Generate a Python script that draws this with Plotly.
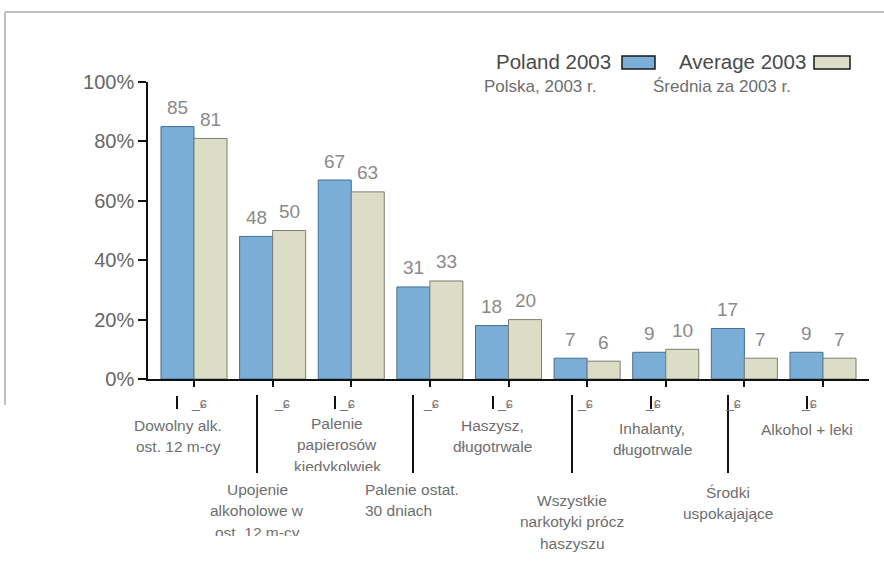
import plotly.graph_objects as go

W, H = 884, 579

# --- data -------------------------------------------------------------
categories = [
    "Dowolny alk.\nost. 12 m-cy",
    "Upojenie\nalkoholowe w\nost. 12 m-cy",
    "Palenie\npapierosów\nkiedykolwiek",
    "Palenie ostat.\n30 dniach",
    "Haszysz,\ndługotrwale",
    "Wszystkie\nnarkotyki prócz\nhaszyszu",
    "Inhalanty,\ndługotrwale",
    "Środki\nuspokajające",
    "Alkohol + leki",
]
poland_2003 = [85, 48, 67, 31, 18, 7, 9, 17, 9]
average_2003 = [81, 50, 63, 33, 20, 6, 10, 7, 7]
y_ticks = [0, 20, 40, 60, 80, 100]
y_tick_labels = ["0%", "20%", "40%", "60%", "80%", "100%"]
series_en = ["Poland 2003", "Average 2003"]
series_pl = ["Polska, 2003 r.", "Średnia za 2003 r."]

# --- styling ----------------------------------------------------------
BLUE, BLUE_EDGE = "#7aaed6", "#456f93"
BEIGE, BEIGE_EDGE = "#dcddc7", "#7d7d70"
MAIN_FONT = "Liberation Sans, Arial, sans-serif"
LABEL_FONT = "Liberation Sans, Arial, sans-serif"


def px(x):
    return x / W


def py(y):
    return 1 - y / H


idx = list(range(len(categories)))

fig = go.Figure()
fig.add_trace(go.Bar(x=idx, y=poland_2003, name=series_en[0],
                     marker=dict(color=BLUE, line=dict(color=BLUE_EDGE, width=1))))
fig.add_trace(go.Bar(x=idx, y=average_2003, name=series_en[1],
                     marker=dict(color=BEIGE, line=dict(color=BEIGE_EDGE, width=1))))

annotations = []
shapes = []

# value labels above each bar
half = 0.21
for i in idx:
    for off, v in ((-half, poland_2003[i]), (half, average_2003[i])):
        annotations.append(dict(x=i + off, y=v, xref="x", yref="y", text=str(v),
                                showarrow=False, yshift=19, yanchor="middle",
                                font=dict(family=MAIN_FONT, size=19, color="#8a8a8a")))

# category labels below the axis, alternating between two rows
label_cx = [178, 257, 337, 363, 492, 572, 652, 728, 807]
label_anchor = ["center", "center", "center", "left", "center", "center", "center", "center", "center"]
label_top = [425, 489, 423, 489, 425, 500, 428, 492, 429]
line_step = 21.5
for i, name in enumerate(categories):
    for k, line in enumerate(name.split("\n")):
        annotations.append(dict(x=px(label_cx[i]), y=py(label_top[i] + k * line_step),
                                xref="paper", yref="paper", text=line, showarrow=False,
                                xanchor=label_anchor[i], yanchor="middle",
                                font=dict(family=LABEL_FONT, size=15.5, color="#6e6e6e")))

# leader lines for the lower row
for xl in (257, 413, 572, 728):
    shapes.append(dict(type="line", xref="paper", yref="paper",
                       x0=px(xl), x1=px(xl), y0=py(395), y1=py(473),
                       line=dict(color="#111111", width=2)))

# small marks just below the axis
for i, xm in enumerate([177, 266, 335, 425, 493, 579, 651, 737, 807]):
    if i % 2 == 0:
        shapes.append(dict(type="line", xref="paper", yref="paper",
                           x0=px(xm), x1=px(xm), y0=py(396), y1=py(409),
                           line=dict(color="#111111", width=2)))
        tx = xm + 12
    else:
        tx = xm + 6
    annotations.append(dict(x=px(tx), y=py(403), xref="paper", yref="paper",
                            text="_ɕ", showarrow=False, yanchor="middle",
                            font=dict(family=MAIN_FONT, size=14, color="#777777")))

# white masks trimming the last partly visible label lines
for (x0, x1, y0, y1) in ((290, 390, 471, 482), (205, 312, 536, 548)):
    annotations.append(dict(x=px(x0), y=py(y0), xref="paper", yref="paper",
                            xanchor="left", yanchor="top", text=" ", showarrow=False,
                            width=x1 - x0, height=y1 - y0, bgcolor="white",
                            borderpad=0, borderwidth=0))

# legend drawn as text + swatches
annotations += [
    dict(x=px(613), y=py(62), xref="paper", yref="paper", text=series_en[0],
         xanchor="right", yanchor="middle", showarrow=False,
         font=dict(family=MAIN_FONT, size=20.5, color="#4a4a4a")),
    dict(x=px(808), y=py(62), xref="paper", yref="paper", text=series_en[1],
         xanchor="right", yanchor="middle", showarrow=False,
         font=dict(family=MAIN_FONT, size=20.5, color="#4a4a4a")),
    dict(x=px(482), y=py(87), xref="paper", yref="paper", text=series_pl[0],
         xanchor="left", yanchor="middle", showarrow=False,
         font=dict(family=MAIN_FONT, size=17, color="#6e6e6e")),
    dict(x=px(651), y=py(87), xref="paper", yref="paper", text=series_pl[1],
         xanchor="left", yanchor="middle", showarrow=False,
         font=dict(family=MAIN_FONT, size=17, color="#6e6e6e")),
]
for (x0, x1, col) in ((622, 655, BLUE), (814, 850, BEIGE)):
    shapes.append(dict(type="rect", xref="paper", yref="paper",
                       x0=px(x0), x1=px(x1), y0=py(56), y1=py(69),
                       fillcolor=col, line=dict(color="#1a1a1a", width=1.5)))

# frame along the top and left edges
shapes.append(dict(type="line", xref="paper", yref="paper", x0=px(5), x1=1,
                   y0=py(12), y1=py(12), line=dict(color="#bdbdbd", width=2)))
shapes.append(dict(type="line", xref="paper", yref="paper", x0=px(5), x1=px(5),
                   y0=py(12), y1=py(405), line=dict(color="#bdbdbd", width=2)))

fig.update_layout(
    width=W, height=H,
    margin=dict(l=0, r=0, t=0, b=0, pad=0, autoexpand=False),
    paper_bgcolor="white", plot_bgcolor="white",
    barmode="group", bargap=0.16, bargroupgap=0,
    showlegend=False,
    xaxis=dict(domain=[px(148), px(869)], range=[-0.585, len(categories) - 0.415],
               tickmode="array", tickvals=idx, showticklabels=False,
               ticks="outside", ticklen=6, tickwidth=1.5, tickcolor="#111111",
               showline=True, linecolor="#111111", linewidth=1.5,
               showgrid=False, zeroline=False, fixedrange=True),
    yaxis=dict(domain=[py(379), py(82)], range=[0, 100],
               tickmode="array", tickvals=y_ticks, ticktext=y_tick_labels,
               ticks="outside", ticklen=8, tickwidth=1.5, tickcolor="#111111",
               tickfont=dict(family=MAIN_FONT, size=20, color="#666666"),
               showline=True, linecolor="#111111", linewidth=1.5,
               showgrid=False, zeroline=False, fixedrange=True),
    annotations=annotations,
    shapes=shapes,
)

fig.write_html("out.html")
